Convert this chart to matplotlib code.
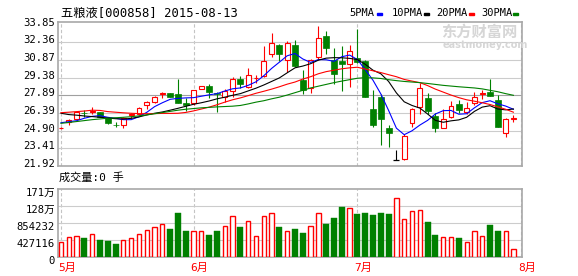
import matplotlib
matplotlib.use("Agg")
import matplotlib.pyplot as plt
import matplotlib.transforms as mtransforms
from matplotlib.patches import Rectangle
import numpy as np

plt.rcParams["font.family"] = ["DejaVu Sans Mono", "Noto Sans CJK SC"]
plt.rcParams["font.size"] = 7.5

# ---- daily candles (May-Jul 2015) ----
opens = [25.08, 25.60, 25.85, 26.42, 26.47, 26.47, 25.94, 25.40, 25.37, 26.20,
         26.27, 27.03, 27.34, 27.98, 28.07, 27.99, 27.25, 27.20, 28.44, 28.64,
         28.05, 27.76, 28.24, 29.23, 28.61, 29.30, 29.54, 31.35, 32.13, 30.86,
         32.13, 29.17, 28.52, 31.09, 32.90, 30.86, 30.78, 30.50, 31.00, 30.80,
         26.70, 27.71, 25.14, 22.41, 22.47, 25.51, 26.87, 27.63, 26.13, 25.09,
         26.07, 27.12, 26.49, 27.25, 27.98, 28.18, 27.48, 24.67, 25.90]
highs = [25.20, 25.85, 26.58, 26.64, 26.86, 26.50, 25.97, 25.60, 26.02, 26.41,
         26.92, 27.40, 27.85, 28.16, 28.10, 29.26, 27.63, 28.35, 28.66, 28.81,
         28.18, 28.39, 29.45, 29.54, 30.16, 29.57, 32.05, 33.17, 32.20, 32.50,
         32.55, 30.02, 30.95, 33.74, 33.31, 31.85, 32.05, 32.13, 33.48, 30.90,
         28.33, 27.99, 25.37, 23.26, 24.58, 26.83, 28.89, 28.05, 26.36, 26.70,
         27.40, 27.48, 27.34, 28.13, 28.33, 29.23, 27.90, 25.99, 26.21]
lows = [25.05, 25.35, 25.71, 26.07, 26.30, 26.05, 25.45, 25.23, 25.14, 25.94,
        26.21, 26.70, 27.20, 27.68, 27.70, 27.20, 26.58, 27.06, 28.40, 27.63,
        26.49, 27.34, 27.76, 28.52, 28.47, 28.94, 29.45, 31.14, 30.78, 29.87,
        30.30, 27.99, 28.10, 30.86, 31.35, 28.81, 28.27, 28.61, 30.60, 27.70,
        25.17, 23.68, 23.53, 22.41, 22.38, 25.17, 26.30, 26.30, 24.80, 25.09,
        25.94, 26.41, 26.30, 27.06, 27.54, 27.82, 25.23, 24.38, 25.65]
closes = [25.10, 25.75, 26.44, 26.38, 26.52, 26.07, 25.56, 25.37, 25.94, 26.30,
          26.78, 27.31, 27.71, 28.05, 27.76, 27.25, 27.06, 28.30, 28.64, 28.18,
          27.95, 28.24, 29.23, 28.86, 29.57, 29.34, 30.78, 32.28, 31.35, 32.28,
          30.38, 28.33, 30.86, 32.70, 31.90, 29.68, 30.50, 31.60, 30.72, 27.76,
          25.37, 25.88, 24.72, 22.41, 24.46, 26.72, 28.47, 26.58, 25.09, 25.88,
          27.00, 26.64, 26.83, 27.76, 28.05, 27.82, 25.23, 25.88, 25.95]
volumes = [380e3, 499e3, 524e3, 481e3, 574e3, 430e3, 405e3, 329e3, 422e3, 473e3,
           582e3, 675e3, 751e3, 835e3, 709e3, 1121e3, 658e3, 658e3, 658e3, 557e3,
           658e3, 785e3, 1038e3, 759e3, 911e3, 532e3, 1038e3, 1114e3, 759e3, 658e3,
           709e3, 616e3, 785e3, 1114e3, 844e3, 987e3, 1274e3, 1240e3, 1097e3, 1114e3,
           1071e3, 1121e3, 1097e3, 1485e3, 953e3, 1156e3, 1181e3, 886e3, 557e3, 499e3,
           499e3, 481e3, 380e3, 650e3, 524e3, 810e3, 658e3, 650e3, 195e3]

ma5 = [25.56, 25.65, 25.73, 25.94, 26.10, 26.16, 26.02, 25.94, 25.82, 25.82,
       26.07, 26.44, 26.92, 27.25, 27.54, 27.62, 27.66, 27.68, 27.80, 27.92,
       28.02, 28.24, 28.43, 28.50, 28.72, 29.02, 29.53, 30.15, 30.68, 31.22,
       31.41, 30.95, 30.66, 30.90, 30.88, 30.75, 31.14, 31.28, 30.90, 30.05,
       29.15, 28.00, 26.60, 25.10, 24.55, 24.88, 25.36, 25.76, 26.30, 26.58,
       26.60, 26.28, 26.32, 26.82, 27.26, 27.42, 27.16, 26.97, 26.70]
ma10 = [26.36, 26.25, 26.20, 26.13, 26.08, 26.02, 25.96, 25.90, 25.87, 25.93,
        26.05, 26.22, 26.36, 26.47, 26.62, 26.78, 26.95, 27.12, 27.25, 27.40,
        27.58, 27.72, 27.88, 28.02, 28.25, 28.48, 28.75, 29.05, 29.35, 29.78,
        30.20, 30.35, 30.55, 30.85, 31.02, 31.06, 31.05, 31.00, 30.90, 30.50,
        30.00, 29.70, 29.05, 28.08, 27.33, 27.02, 26.80, 26.30, 25.76, 25.60,
        25.72, 25.80, 26.02, 26.52, 26.88, 27.00, 26.72, 26.65, 26.72]
ma20 = [26.41, 26.45, 26.50, 26.55, 26.62, 26.60, 26.50, 26.45, 26.40, 26.36,
        26.33, 26.32, 26.33, 26.35, 26.35, 26.36, 26.43, 26.56, 26.72, 26.88,
        27.08, 27.30, 27.50, 27.66, 27.85, 28.05, 28.22, 28.40, 28.60, 28.82,
        29.00, 29.25, 29.45, 29.70, 29.88, 30.00, 30.12, 30.20, 30.25, 30.10,
        29.95, 29.80, 29.62, 29.45, 29.22, 29.08, 28.95, 28.70, 28.40, 28.15,
        27.90, 27.68, 27.50, 27.38, 27.25, 27.10, 26.90, 26.70, 26.45]
ma30 = [25.51, 25.58, 25.66, 25.74, 25.82, 25.88, 25.94, 25.98, 26.02, 26.07,
        26.14, 26.22, 26.32, 26.42, 26.52, 26.62, 26.70, 26.76, 26.82, 26.86,
        26.90, 26.93, 26.96, 27.02, 27.15, 27.30, 27.42, 27.58, 27.72, 27.90,
        28.10, 28.30, 28.50, 28.65, 28.80, 28.95, 29.08, 29.20, 29.32, 29.37,
        29.35, 29.30, 29.20, 29.12, 29.05, 29.00, 28.95, 28.88, 28.80, 28.72,
        28.66, 28.60, 28.55, 28.50, 28.42, 28.30, 28.18, 28.02, 27.88]

price_ticks = [21.92, 23.41, 24.90, 26.39, 27.885, 29.38, 30.87, 32.36, 33.85]
price_labels = ["21.92", "23.41", "24.90", "26.39", "27.89", "29.38", "30.87", "32.36", "33.85"]
vol_ticks = [0, 427116, 854232, 1281348, 1708464]
vol_labels = ["0", "427116", "854232", "128万", "171万"]
month_pos = [0, 17, 38, 59]
month_labels = ["5月", "6月", "7月", "8月"]
ma_names = ["5PMA", "10PMA", "20PMA", "30PMA"]

RED, GREEN, BLUE, BLACK = "#ff0000", "#008000", "#0000ff", "#000000"
GRID, FRAME = "#cccccc", "#a8a8a8"
W, H = 578, 276

fig = plt.figure(figsize=(W / 100, H / 100), dpi=100)


def px_axes(l, t, r, b):
    return fig.add_axes([l / W, 1 - b / H, (r - l) / W, (b - t) / H])


def fig_text(x, y, s, **kw):
    fig.text(x / W, 1 - y / H, s, **kw)


ax = px_axes(58, 21.7, 522, 165.8)
axv = px_axes(58, 189.3, 522, 257)

for a in (ax, axv):
    a.set_xlim(-0.38, 59.1)
    a.set_xticks([])
    a.set_yticks([])
    for s in a.spines.values():
        s.set_color(FRAME)
        s.set_linewidth(1.2)
    for m in month_pos:
        a.axvline(m, color="#c4c4c4", ls=(0, (3, 2)), lw=0.8, zorder=0)

ax.set_ylim(21.92, 34.10)
axv.set_ylim(0, 1708464)

for t in price_ticks[1:-1]:
    ax.axhline(t, color="#a0a0a0" if t == 27.885 else GRID, lw=0.8, zorder=0)
for t in vol_ticks[1:-1]:
    axv.axhline(t, color=GRID, lw=0.8, zorder=0)

# y tick labels, drawn as text to the left of the axes
up = mtransforms.offset_copy(ax.get_yaxis_transform(), fig=fig, x=-3, y=2, units="dots")
for t, lab in zip(price_ticks, price_labels):
    ax.text(0, t, lab, transform=up, ha="right", va="center", fontsize=7.6)
dn = mtransforms.offset_copy(axv.get_yaxis_transform(), fig=fig, x=-3, y=-3.5, units="dots")
for t, lab in zip(vol_ticks, vol_labels):
    axv.text(0, t, lab, transform=dn, ha="right", va="center", fontsize=7.6)

# candles
for i in range(len(closes)):
    o, h, l, c = opens[i], highs[i], lows[i], closes[i]
    if c > o:
        ax.add_patch(Rectangle((i - 0.3, o), 0.6, c - o, facecolor="white",
                               edgecolor=RED, lw=0.8, zorder=3))
        ax.vlines(i, c, h, color=RED, lw=0.8, zorder=3)
        ax.vlines(i, l, o, color=RED, lw=0.8, zorder=3)
    elif c < o:
        ax.vlines(i, l, h, color=GREEN, lw=0.8, zorder=3)
        ax.add_patch(Rectangle((i - 0.38, c), 0.76, o - c, facecolor=GREEN,
                               edgecolor=GREEN, lw=0.5, zorder=3))
    else:
        ax.vlines(i, l, h, color=BLACK, lw=0.8, zorder=3)
        ax.hlines(c, i - 0.38, i + 0.38, color=BLACK, lw=0.9, zorder=3)

xs = np.arange(len(closes))
for vals, col in zip([ma5, ma10, ma20, ma30], [BLUE, BLACK, RED, GREEN]):
    ax.plot(xs, vals, color=col, lw=0.8, zorder=4)

# volume bars
for i, v in enumerate(volumes):
    if closes[i] >= opens[i]:
        axv.add_patch(Rectangle((i - 0.27, 0), 0.54, v, facecolor="white",
                                edgecolor=RED, lw=1.0, zorder=3))
    else:
        axv.add_patch(Rectangle((i - 0.39, 0), 0.78, v, facecolor=GREEN,
                                edgecolor=GREEN, lw=0.3, zorder=3))

# watermark
fig_text(441, 32, "东方财富网", fontsize=11, color="#d6d6d6", fontweight="bold",
         family="Noto Sans CJK SC", va="center", zorder=0)
fig_text(443, 45, "eastmoney.com", fontsize=7, color="#d6d6d6", fontweight="bold",
         family="DejaVu Sans", va="center", zorder=0)

# header texts
fig_text(61, 13.5, "五粮液[000858] 2015-08-13", fontsize=8.8, va="center")
for x0, name, mx, col in zip([349, 392, 436, 481], ma_names,
                             [377, 424, 469, 513], [BLUE, BLACK, RED, GREEN]):
    fig_text(x0, 13.5, name, fontsize=7.5, va="center")
    fig.add_artist(Rectangle((mx / W, 1 - 15.2 / H), 5 / W, 2.6 / H,
                             transform=fig.transFigure, color=col))

fig_text(59, 177, "成交量:0 手", fontsize=8, va="center")
for m, lab in zip(month_pos, month_labels):
    x_px = 58 + (m + 0.38) / 59.48 * 464
    fig_text(x_px - 3, 267.5, lab, fontsize=8, color=RED, va="center")

fig.savefig("out.png", dpi=100)
